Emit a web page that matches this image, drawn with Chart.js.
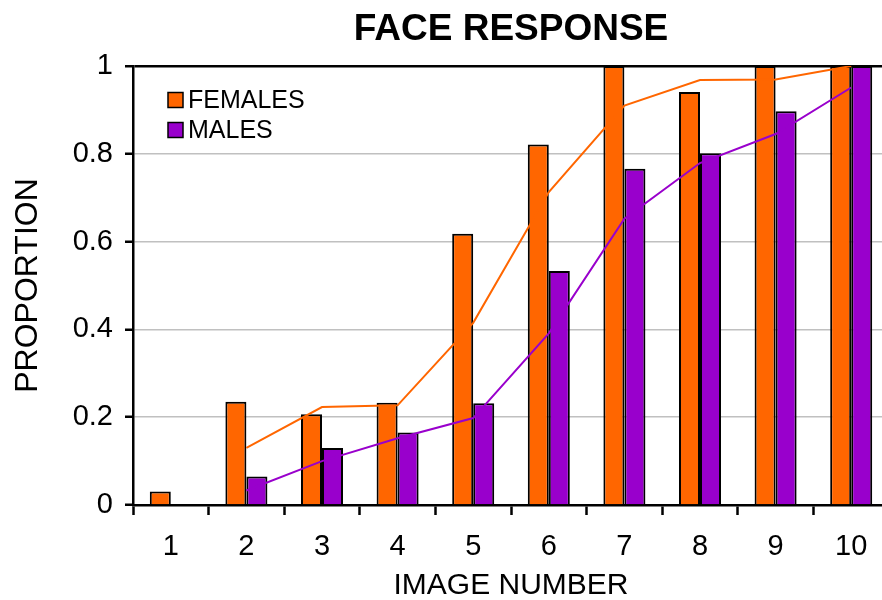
<!DOCTYPE html>
<html>
<head>
<meta charset="utf-8">
<title>Face Response</title>
<script src="https://cdn.jsdelivr.net/npm/chart.js@4.4.1/dist/chart.umd.min.js"></script>
<style>
  html, body { margin: 0; padding: 0; background: #fff; overflow: hidden; }
  #wrap { width: 882px; height: 600px; overflow: hidden; }
</style>
</head>
<body>
<div id="wrap"><canvas id="faceChart" width="889" height="600"></canvas></div>
<script>
const imageNumbers = ['1', '2', '3', '4', '5', '6', '7', '8', '9', '10'];
const females = [0.031, 0.235, 0.207, 0.233, 0.618, 0.821, 1.0, 0.941, 1.0, 1.0];
const males = [0, 0.065, 0.13, 0.165, 0.232, 0.533, 0.766, 0.801, 0.897, 1.0];
// trend lines
const femaleTrend = [null, 0.13, 0.223, 0.227, 0.415, 0.713, 0.91, 0.968, 0.969, 1.0];
const maleTrend = [null, 0.033, 0.1, 0.152, 0.198, 0.391, 0.652, 0.779, 0.845, 0.951];

const ORANGE = '#FF6600';
const PURPLE = '#9900CC';
const FONT = "'Liberation Sans', Arial, sans-serif";

// legend drawn inside the plot, top left
const insideLegend = {
    id: 'insideLegend',
    afterDraw(chart) {
        const ctx = chart.ctx;
        const items = chart.data.datasets.filter(d => d.type !== 'line');
        ctx.save();
        ctx.font = '25px ' + FONT;
        ctx.textBaseline = 'middle';
        items.forEach((d, i) => {
            const y = 100 + i * 30;
            ctx.fillStyle = d.backgroundColor;
            ctx.fillRect(168, y - 7.5, 15, 15);
            ctx.lineWidth = 1.5;
            ctx.strokeStyle = '#000';
            ctx.strokeRect(168, y - 7.5, 15, 15);
            ctx.fillStyle = '#000';
            ctx.fillText(d.label, 188, y + 1);
        });
        ctx.restore();
    }
};

const ctx = document.getElementById('faceChart').getContext('2d');
new Chart(ctx, {
    type: 'bar',
    data: {
        labels: imageNumbers,
        datasets: [
            {
                type: 'line',
                label: 'FEMALES trend',
                data: femaleTrend,
                borderColor: ORANGE,
                borderWidth: 2,
                pointRadius: 0,
                tension: 0,
                fill: false,
                order: 0
            },
            {
                type: 'line',
                label: 'MALES trend',
                data: maleTrend,
                borderColor: PURPLE,
                borderWidth: 2,
                pointRadius: 0,
                tension: 0,
                fill: false,
                order: 0
            },
            {
                label: 'FEMALES',
                data: females,
                backgroundColor: ORANGE,
                borderColor: '#000',
                borderWidth: 2,
                categoryPercentage: 0.556,
                barPercentage: 1,
                order: 1
            },
            {
                label: 'MALES',
                data: males,
                backgroundColor: PURPLE,
                borderColor: '#000',
                borderWidth: 2,
                categoryPercentage: 0.556,
                barPercentage: 1,
                order: 1
            }
        ]
    },
    options: {
        responsive: false,
        animation: false,
        devicePixelRatio: 1,
        layout: { padding: 0 },
        plugins: {
            legend: { display: false },
            tooltip: { enabled: false },
            title: {
                display: true,
                text: 'FACE RESPONSE',
                fullSize: false,
                color: '#000',
                font: { family: FONT, size: 37, weight: 'bold', lineHeight: 1.2 },
                padding: { top: 8, bottom: 13.6 }
            }
        },
        scales: {
            x: {
                grid: {
                    drawOnChartArea: false,
                    tickLength: 10,
                    tickColor: '#000',
                    tickWidth: 2.5
                },
                border: { color: '#000', width: 2.5 },
                ticks: {
                    color: '#000',
                    font: { family: FONT, size: 29 },
                    padding: 15,
                    maxRotation: 0
                },
                title: {
                    display: true,
                    text: 'IMAGE NUMBER',
                    color: '#000',
                    font: { family: FONT, size: 30, lineHeight: 0.933 },
                    padding: { top: 0, bottom: 0 }
                },
                afterFit(scale) { scale.height = 95; }
            },
            y: {
                min: 0,
                max: 1,
                ticks: {
                    stepSize: 0.2,
                    color: '#000',
                    font: { family: FONT, size: 29 },
                    padding: 12,
                    callback: v => String(Number(v.toFixed(1)))
                },
                grid: {
                    color: c => (c.tick && c.tick.value === 1) ? '#000' : '#c0c0c0',
                    lineWidth: c => (c.tick && c.tick.value === 1) ? 2.5 : 1.5,
                    tickLength: 8,
                    tickColor: '#000',
                    tickWidth: 2.5
                },
                border: { color: '#000', width: 2.5 },
                title: {
                    display: true,
                    text: 'PROPORTION',
                    color: '#000',
                    font: { family: FONT, size: 32, lineHeight: 1.2 },
                    padding: { top: 9, bottom: 0 }
                },
                afterFit(scale) { scale.width = 133; }
            }
        }
    },
    plugins: [insideLegend]
});
</script>
</body>
</html>
